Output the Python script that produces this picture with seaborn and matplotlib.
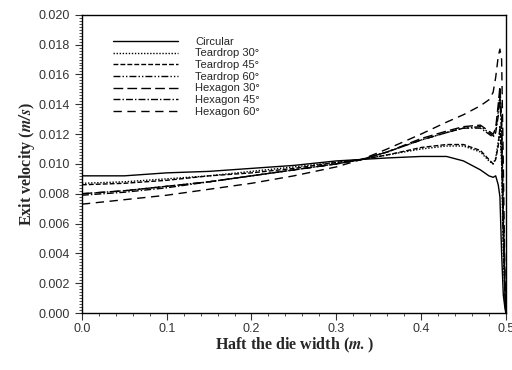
import numpy as np
import pandas as pd
import matplotlib
matplotlib.use("Agg")
import matplotlib.pyplot as plt
from matplotlib.ticker import MultipleLocator, FormatStrFormatter
import seaborn as sns

# half die width (m) where values were read
x_pts = [0.0, 0.05, 0.1, 0.15, 0.2, 0.25, 0.3, 0.33, 0.36, 0.4, 0.43, 0.45, 0.47,
         0.48, 0.485, 0.488, 0.491, 0.493, 0.495, 0.497, 0.499, 0.5]

circular = [0.0092, 0.0092, 0.0094, 0.0095, 0.0097, 0.0099, 0.0102, 0.0103, 0.0104, 0.0105, 0.0105,
            0.0102, 0.0096, 0.0092, 0.0091, 0.0092, 0.0086, 0.0078, 0.0040, 0.0012, 0.0003, 0.0]
teardrop30 = [0.0087, 0.0088, 0.0090, 0.0092, 0.0095, 0.0098, 0.0101, 0.0103, 0.0106, 0.0110, 0.0112,
              0.0112, 0.0108, 0.0102, 0.0100, 0.0104, 0.0115, 0.0122, 0.0100, 0.0040, 0.0010, 0.0]
teardrop45 = [0.0086, 0.0087, 0.0089, 0.0092, 0.0094, 0.0097, 0.0101, 0.0103, 0.0106, 0.0111, 0.0113,
              0.0113, 0.0109, 0.0103, 0.0100, 0.0103, 0.0112, 0.0125, 0.0105, 0.0050, 0.0010, 0.0]
teardrop60 = [0.0080, 0.0082, 0.0085, 0.0088, 0.0092, 0.0096, 0.0100, 0.0103, 0.0108, 0.0116, 0.0121,
              0.0124, 0.0125, 0.0121, 0.0119, 0.0122, 0.0135, 0.0148, 0.0125, 0.0060, 0.0015, 0.0]
hexagon30 = [0.0080, 0.0082, 0.0085, 0.0088, 0.0092, 0.0096, 0.0100, 0.0103, 0.0108, 0.0117, 0.0122,
             0.0125, 0.0126, 0.0122, 0.0120, 0.0124, 0.0140, 0.0152, 0.0130, 0.0070, 0.0020, 0.0]
hexagon45 = [0.0079, 0.0081, 0.0084, 0.0088, 0.0092, 0.0096, 0.0100, 0.0103, 0.0108, 0.0116, 0.0121,
             0.0124, 0.0124, 0.0120, 0.0118, 0.0121, 0.0132, 0.0145, 0.0120, 0.0055, 0.0012, 0.0]
hexagon60 = [0.0073, 0.0076, 0.0079, 0.0083, 0.0087, 0.0092, 0.0098, 0.0103, 0.0110, 0.0120, 0.0128,
             0.0133, 0.0139, 0.0143, 0.0148, 0.0158, 0.0172, 0.0177, 0.0170, 0.0100, 0.0020, 0.0]

labels = ["Circular", "Teardrop 30°", "Teardrop 45°", "Teardrop 60°",
          "Hexagon 30°", "Hexagon 45°", "Hexagon 60°"]
series = [circular, teardrop30, teardrop45, teardrop60, hexagon30, hexagon45, hexagon60]
styles = ["-", (0, (1, 1.2)), (0, (3.5, 1.5)), (0, (5, 1.5, 1, 1.5, 1, 1.5)),
          (0, (7, 3)), (0, (5, 1.5, 1, 1.5)), (0, (6, 4))]

sns.set_style("ticks")
plt.rcParams["font.family"] = ["Liberation Sans", "DejaVu Sans"]
plt.rcParams["mathtext.fontset"] = "stix"

fig = plt.figure(figsize=(5.12, 3.70), dpi=100)
ax = fig.add_axes([0.160, 0.154, 0.828, 0.806])

for lab, vals, ls in zip(labels, series, styles):
    df = pd.DataFrame({"x": x_pts, "y": vals})
    sns.lineplot(data=df, x="x", y="y", ax=ax, color="black", linewidth=1.0,
                 linestyle=ls, label=lab)

ax.set_xlim(0, 0.5)
ax.set_ylim(0, 0.020)
ax.xaxis.set_major_locator(MultipleLocator(0.1))
ax.xaxis.set_minor_locator(MultipleLocator(0.02))
ax.yaxis.set_major_locator(MultipleLocator(0.002))
ax.yaxis.set_minor_locator(MultipleLocator(0.0002))
ax.xaxis.set_major_formatter(FormatStrFormatter("%.1f"))
ax.yaxis.set_major_formatter(FormatStrFormatter("%.3f"))
ax.tick_params(axis="x", which="both", direction="out", labelsize=9, pad=2, colors="#333333")
ax.tick_params(axis="y", which="both", direction="out", labelsize=9, colors="#333333")
ax.tick_params(which="major", length=5)
ax.tick_params(which="minor", length=2.5)
for s in ax.spines.values():
    s.set_linewidth(1.0)
    s.set_color("black")

ax.set_xlabel(r"Haft the die width ($\mathbfit{m.}$)", family="Liberation Serif",
              fontweight="bold", fontsize=11.5, labelpad=1)
ax.set_ylabel(r"Exit velocity ($\mathbfit{m/s}$)", family="Liberation Serif",
              fontweight="bold", fontsize=11.5, labelpad=1)

leg = ax.legend(loc="upper left", bbox_to_anchor=(0.05, 0.96), frameon=False,
                fontsize=8, handlelength=5.8, handletextpad=1.6, labelspacing=0.15)

fig.savefig("out.png", dpi=100)
